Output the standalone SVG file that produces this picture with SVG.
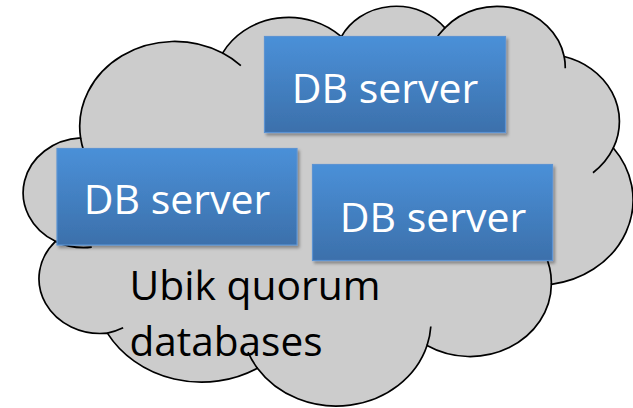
<svg xmlns="http://www.w3.org/2000/svg" width="633" height="408" viewBox="0 0 633 408">
  <defs>
    <linearGradient id="boxGrad" x1="0" y1="0" x2="0" y2="1">
      <stop offset="0" stop-color="#4A90D8"/>
      <stop offset="1" stop-color="#3C70AB"/>
    </linearGradient>
    <filter id="shadow" x="-10%" y="-10%" width="130%" height="130%">
      <feDropShadow dx="2" dy="2.5" stdDeviation="1.6" flood-color="#000" flood-opacity="0.35"/>
    </filter>
  </defs>
  <style>
    .cloud { fill: #CCCCCC; stroke: #000; stroke-width: 1.7; vector-effect: non-scaling-stroke; }
    .tail { fill: none; stroke: #000; stroke-width: 1.7; vector-effect: non-scaling-stroke; }
    .box { fill: url(#boxGrad); stroke: #5B93D2; stroke-width: 1.2; filter: url(#shadow); }
    .boxText { font-family: "Open Sans", "Liberation Sans", sans-serif; font-size: 41px; fill: #FFFFFF; text-anchor: middle; }
    .label { font-family: "Open Sans", "Liberation Sans", sans-serif; font-size: 40px; fill: #000000; }
  </style>
  <rect x="0" y="0" width="633" height="408" fill="#FFFFFF"/>

  <g id="cloud">
    <g transform="translate(25.8,5) scale(0.01405,0.00925)">
      <path class="cloud" d="M 3900 14370 A 6753 9190 0 0 1 14005 5202 A 5333 7267 0 0 1 22457 3429 A 4365 5945 0 0 1 29833 2475 A 4857 6595 0 0 1 38318 5570 A 5333 7273 0 0 1 41818 15454 A 6775 9220 0 0 1 37406 30200 A 5785 7867 0 0 1 28558 36811 A 6752 9215 0 0 1 16484 39266 A 7720 10543 0 0 1 5806 35471 A 4360 5918 0 0 1 2113 25552 A 4345 5945 0 0 1 3900 14370 Z"/>
      <path class="tail" d="M 4693 26177 A 4345 5945 0 0 1 2113 25552 M 6928 34899 A 4360 5918 0 0 1 5806 35471 M 16484 39266 A 6752 9215 0 0 1 15815 37523 M 28827 34751 A 6752 9215 0 0 1 28558 36811 M 34129 22954 A 5785 7867 0 0 1 37406 30200 M 41818 15454 A 5333 7273 0 0 1 40369 18131 M 38318 5570 A 4857 6595 0 0 1 38394 6834 M 29078 3952 A 4857 6595 0 0 1 29833 2475 M 22141 4720 A 4365 5945 0 0 1 22457 3429 M 14005 5202 A 6753 9190 0 0 1 15306 6552 M 4127 15789 A 6753 9190 0 0 1 3900 14370"/>
    </g>
    <text class="label" x="129.5" y="299.5" textLength="251" lengthAdjust="spacingAndGlyphs">Ubik quorum</text>
    <text class="label" x="129.5" y="355.5" textLength="193" lengthAdjust="spacingAndGlyphs">databases</text>
  </g>

  <g id="connectors"></g>

  <g id="db-server-top">
    <rect class="box" x="264.5" y="36.5" width="241" height="96"/>
    <text class="boxText" x="385" y="102.5">DB server</text>
  </g>

  <g id="db-server-left">
    <rect class="box" x="57" y="148.5" width="240" height="96.5"/>
    <text class="boxText" x="177" y="214">DB server</text>
  </g>

  <g id="db-server-right">
    <rect class="box" x="312.5" y="164.5" width="240" height="96"/>
    <text class="boxText" x="433" y="231.5">DB server</text>
  </g>
</svg>
